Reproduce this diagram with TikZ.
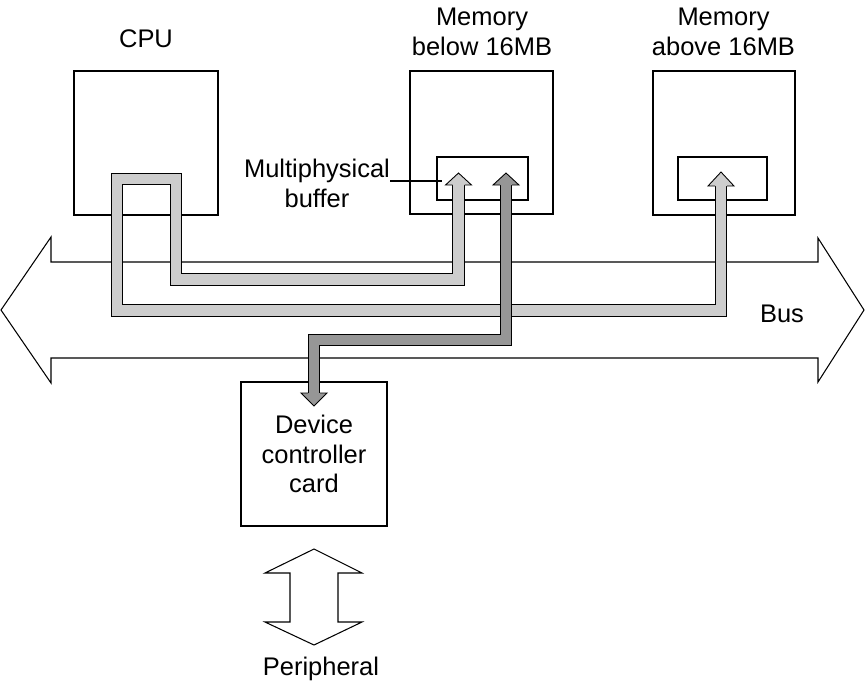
\documentclass[tikz,border=0pt]{standalone}
\usepackage{fontspec}
\setmainfont{Liberation Sans}
\usepackage{xcolor}
\usepackage{tikz}
\definecolor{pipelight}{RGB}{205,205,205}
\definecolor{pipedark} {RGB}{150,150,150}
\tikzset{
  unitbox/.style  ={draw, line width=1.1pt, inner sep=0pt},
  bufbox/.style   ={draw, line width=0.6pt, inner sep=0pt},
  lbl/.style      ={font=\fontsize{14.5}{16.8}\selectfont, align=center, inner sep=0pt},
  thinline/.style ={line width=0.6pt, line join=miter},
  pipe/.style     ={draw=black, line width=0.5pt, double distance=0.21cm, line join=miter},
  lightpipe/.style={pipe, double=pipelight},
  darkpipe/.style ={pipe, double=pipedark},
  lighthead/.style={draw=black, fill=pipelight, line width=0.5pt, line join=miter},
  darkhead/.style ={draw=black, fill=pipedark,  line width=0.5pt, line join=miter},
}

\begin{document}
\begin{tikzpicture}[x=0.02cm, y=-0.02cm]
  \useasboundingbox (0,0) rectangle (865,698);
  % bus
  \draw[thinline] (1,310) -- (51,237) -- (51,262) -- (818,262) -- (818,238) -- (864,310)
    -- (818,382) -- (818,358) -- (51,358) -- (51,383) -- cycle;
  \node[lbl, anchor=base] (buslbl) at (782,322) {Bus};
  % units
  \node[unitbox, minimum width=2.88cm, minimum height=2.88cm] (cpu)     at (146,143)   {};
  \node[unitbox, minimum width=2.86cm, minimum height=2.86cm] (memlow)  at (481.5,142.5) {};
  \node[unitbox, minimum width=2.84cm, minimum height=2.88cm] (memhigh) at (724,143)   {};
  \node[bufbox,  minimum width=1.82cm, minimum height=0.86cm] (buflow)  at (482.5,178.5) {};
  \node[bufbox,  minimum width=1.78cm, minimum height=0.86cm] (bufhigh) at (722.5,178.5) {};
  \node[unitbox, lbl, minimum width=2.92cm, minimum height=2.88cm] (dev) at (314,454)
       {Device\\controller\\card};
  \node[lbl, anchor=base]  (cpulbl)     at (146,47)    {CPU};
  \node[lbl, anchor=north] (memlowlbl)  at (482,8)     {Memory\\below 16MB};
  \node[lbl, anchor=north] (memhighlbl) at (723.5,8)   {Memory\\above 16MB};
  \node[lbl, anchor=north] (mplbl)      at (317,159)   {Multiphysical\\buffer};
  \coordinate (leadend) at (442,181);
  \draw[thinline] (mplbl.east |- leadend) -- (leadend);
  % peripheral
  \draw[thinline] (314,549) -- (362,573) -- (338,573) -- (338,622) -- (362,622) -- (314,645)
    -- (265,622) -- (290,622) -- (290,573) -- (265,573) -- cycle;
  \node[lbl, anchor=base] (periphlbl) at (321,675) {Peripheral};
  % pipes
  \coordinate (hiend)  at (721,185);
  \coordinate (loend)  at (458.5,184);
  \coordinate (dmaend) at (506,184);
  \coordinate (devend) at (314,394);
  \draw[lightpipe] (hiend) -- (721,310.5) -- (117,310.5) -- (117,179) -- (176,179)
    -- (176,279.5) -- (458.5,279.5) -- (loend);
  \filldraw[lighthead] (721,186) ++(-6,0) -- ++(-7,0) -- ++(13,-14) -- ++(13,14) -- ++(-7,0);
  \filldraw[lighthead] (458.5,185) ++(-6,0) -- ++(-7,0) -- ++(13,-12) -- ++(13,12) -- ++(-7,0);
  \draw[darkpipe] (dmaend) -- (506,340) -- (314,340) -- (devend);
  \filldraw[darkhead] (506,185) ++(-6,0) -- ++(-7,0) -- ++(13,-12) -- ++(13,12) -- ++(-7,0);
  \filldraw[darkhead] (314,393) ++(-6,0) -- ++(-7,0) -- ++(13,13) -- ++(13,-13) -- ++(-7,0);
\end{tikzpicture}
\end{document}
